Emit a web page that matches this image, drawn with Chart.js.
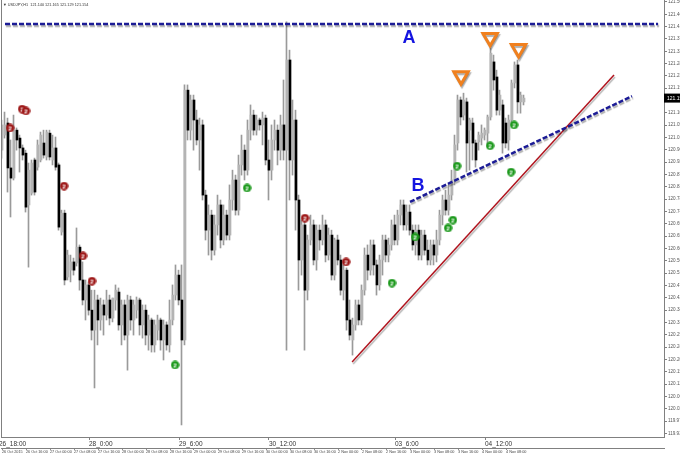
<!DOCTYPE html>
<html lang="en">
<head>
<meta charset="UTF-8">
<title>USDJPY,H1</title>
<script src="https://cdn.jsdelivr.net/npm/chart.js"></script>
<style>
  html, body { margin: 0; padding: 0; background: #fff; }
  #wrap { width: 680px; height: 457px; }
</style>
</head>
<body>
<div id="wrap"><canvas id="myChart" width="680" height="457"></canvas></div>
<script>
// ---- data (H1 candles, one per hour) ----
const symbolName = 'USDJPY,H1';

const candleOpen = [
  120.964, 121.019, 121.063, 120.899, 120.862, 121.037, 121.008, 120.972, 120.953, 120.764,
  120.807, 120.928, 120.902, 120.928, 120.990, 120.939, 121.026, 120.928, 120.972, 120.910,
  120.665, 120.734, 120.501, 120.526, 120.556, 120.552, 120.610, 120.490, 120.417, 120.472,
  120.380, 120.307, 120.417, 120.344, 120.399, 120.362, 120.417, 120.351, 120.417, 120.446,
  120.326, 120.399, 120.289, 120.417, 120.344, 120.380, 120.417, 120.326, 120.380, 120.289,
  120.344, 120.253, 120.307, 120.344, 120.271, 120.326, 120.253, 120.344, 120.435, 120.508,
  120.417, 120.271, 121.183, 121.037, 121.147, 121.074, 121.001, 121.056, 120.800, 120.672,
  120.727, 120.599, 120.691, 120.764, 120.636, 120.727, 120.654, 120.782, 120.855, 120.745,
  120.910, 120.964, 120.891, 121.037, 121.092, 121.037, 121.074, 121.056, 121.081, 120.928,
  120.891, 121.001, 121.037, 120.964, 121.056, 120.964, 121.293, 120.928, 121.074, 120.782,
  120.563, 120.691, 120.453, 120.636, 120.691, 120.563, 120.672, 120.636, 120.691, 120.581,
  120.654, 120.508, 120.636, 120.563, 120.453, 120.526, 120.344, 120.271, 120.326, 120.399,
  120.344, 120.453, 120.581, 120.526, 120.618, 120.545, 120.472, 120.563, 120.636, 120.581,
  120.618, 120.691, 120.636, 120.727, 120.764, 120.691, 120.738, 120.672, 120.618, 120.672,
  120.581, 120.654, 120.599, 120.563, 120.618, 120.581, 120.636, 120.727, 120.782, 120.745,
  120.800, 120.855, 120.990, 121.147, 121.092, 121.140, 121.037, 121.063, 120.990, 120.994,
  121.008, 121.019, 121.026, 121.085, 121.286, 121.231, 121.110, 121.129, 121.063, 121.001,
  121.074, 121.209, 121.275, 121.140, 121.140
];
const candleHigh = [
  121.074, 121.103, 121.081, 121.001, 121.092, 121.045, 121.019, 120.983, 120.964, 120.917,
  120.928, 120.935, 121.001, 121.030, 121.037, 121.037, 121.037, 121.019, 121.012, 120.917,
  120.745, 120.745, 120.599, 120.581, 120.570, 120.680, 120.618, 120.556, 120.490, 120.483,
  120.453, 120.453, 120.435, 120.424, 120.417, 120.453, 120.435, 120.424, 120.472, 120.461,
  120.417, 120.417, 120.435, 120.431, 120.417, 120.428, 120.424, 120.399, 120.399, 120.362,
  120.351, 120.344, 120.362, 120.351, 120.344, 120.337, 120.417, 120.472, 120.545, 120.526,
  120.545, 121.202, 121.202, 121.165, 121.165, 121.110, 121.081, 121.074, 120.818, 120.764,
  120.745, 120.727, 120.800, 120.782, 120.764, 120.745, 120.837, 120.891, 120.873, 120.946,
  121.019, 120.983, 121.074, 121.129, 121.110, 121.092, 121.081, 121.103, 121.092, 121.001,
  121.056, 121.074, 121.056, 121.092, 121.220, 121.432, 121.329, 121.147, 121.110, 120.800,
  120.709, 120.709, 120.654, 120.727, 120.709, 120.691, 120.691, 120.727, 120.709, 120.680,
  120.672, 120.643, 120.654, 120.581, 120.545, 120.534, 120.417, 120.351, 120.417, 120.417,
  120.472, 120.607, 120.618, 120.636, 120.636, 120.563, 120.581, 120.654, 120.654, 120.643,
  120.709, 120.727, 120.745, 120.782, 120.782, 120.764, 120.764, 120.691, 120.691, 120.691,
  120.672, 120.672, 120.636, 120.636, 120.636, 120.672, 120.745, 120.800, 120.818, 120.837,
  120.891, 121.019, 121.165, 121.158, 121.172, 121.154, 121.081, 121.081, 121.001, 121.030,
  121.056, 121.045, 121.092, 121.337, 121.311, 121.256, 121.183, 121.147, 121.081, 121.092,
  121.220, 121.286, 121.293, 121.176, 121.165
];
const candleLow = [
  120.935, 121.008, 120.811, 120.720, 120.855, 120.964, 120.884, 120.928, 120.738, 120.537,
  120.800, 120.800, 120.891, 120.921, 120.935, 120.928, 120.928, 120.910, 120.891, 120.672,
  120.654, 120.472, 120.490, 120.483, 120.508, 120.541, 120.453, 120.399, 120.344, 120.362,
  120.271, 120.096, 120.253, 120.307, 120.289, 120.344, 120.326, 120.337, 120.380, 120.307,
  120.253, 120.271, 120.161, 120.307, 120.289, 120.351, 120.289, 120.278, 120.253, 120.234,
  120.227, 120.227, 120.271, 120.234, 120.198, 120.234, 120.227, 120.326, 120.417, 120.399,
  119.961, 120.253, 121.001, 121.001, 120.964, 120.983, 120.891, 120.782, 120.636, 120.581,
  120.563, 120.581, 120.654, 120.607, 120.618, 120.636, 120.636, 120.745, 120.727, 120.727,
  120.873, 120.855, 120.873, 121.001, 121.019, 121.019, 121.037, 120.983, 120.910, 120.782,
  120.855, 120.964, 120.910, 120.928, 120.928, 120.234, 120.782, 120.873, 120.672, 120.453,
  120.508, 120.234, 120.417, 120.618, 120.545, 120.526, 120.599, 120.618, 120.556, 120.563,
  120.490, 120.490, 120.545, 120.435, 120.417, 120.307, 120.271, 120.216, 120.307, 120.326,
  120.326, 120.435, 120.490, 120.508, 120.508, 120.435, 120.453, 120.508, 120.556, 120.556,
  120.599, 120.618, 120.618, 120.691, 120.672, 120.672, 120.654, 120.599, 120.581, 120.563,
  120.563, 120.581, 120.545, 120.545, 120.545, 120.556, 120.618, 120.691, 120.727, 120.727,
  120.782, 120.837, 120.964, 121.056, 121.074, 120.884, 120.891, 120.928, 120.902, 120.964,
  120.983, 121.001, 120.975, 121.074, 121.183, 121.092, 121.092, 120.953, 120.972, 120.964,
  121.056, 121.191, 121.099, 121.099, 121.129
];
const candleClose = [
  121.056, 121.056, 120.899, 120.862, 121.037, 121.001, 120.972, 120.946, 120.756, 120.891,
  120.917, 120.811, 120.983, 121.019, 120.946, 121.030, 120.939, 120.972, 120.902, 120.683,
  120.734, 120.490, 120.581, 120.556, 120.526, 120.610, 120.490, 120.417, 120.472, 120.380,
  120.307, 120.417, 120.344, 120.399, 120.362, 120.417, 120.351, 120.424, 120.453, 120.326,
  120.399, 120.289, 120.417, 120.344, 120.399, 120.417, 120.326, 120.380, 120.289, 120.344,
  120.253, 120.326, 120.344, 120.271, 120.326, 120.253, 120.344, 120.435, 120.508, 120.417,
  120.271, 121.183, 121.037, 121.147, 121.074, 121.001, 121.056, 120.800, 120.672, 120.727,
  120.599, 120.691, 120.764, 120.636, 120.727, 120.654, 120.782, 120.855, 120.745, 120.910,
  120.964, 120.891, 121.037, 121.092, 121.037, 121.074, 121.056, 121.081, 120.928, 120.891,
  121.001, 121.037, 120.964, 121.056, 120.964, 121.293, 120.928, 121.074, 120.782, 120.563,
  120.691, 120.453, 120.636, 120.691, 120.563, 120.672, 120.636, 120.691, 120.581, 120.654,
  120.508, 120.636, 120.563, 120.453, 120.526, 120.344, 120.289, 120.326, 120.399, 120.344,
  120.453, 120.581, 120.526, 120.618, 120.545, 120.472, 120.563, 120.636, 120.581, 120.618,
  120.691, 120.636, 120.727, 120.764, 120.691, 120.738, 120.672, 120.618, 120.672, 120.581,
  120.654, 120.599, 120.563, 120.618, 120.581, 120.636, 120.727, 120.782, 120.745, 120.800,
  120.855, 120.983, 121.147, 121.085, 121.147, 120.990, 121.074, 120.990, 120.928, 121.019,
  121.026, 121.037, 121.085, 121.318, 121.220, 121.110, 121.165, 120.990, 120.990, 121.074,
  121.209, 121.275, 121.140, 121.165, 121.154
];

// price axis labels
const priceTicks = [
  121.505, 121.460, 121.415, 121.370, 121.325, 121.280, 121.235, 121.190, 121.145, 121.100,
  121.055, 121.010, 120.965, 120.920, 120.875, 120.830, 120.785, 120.740, 120.695, 120.650,
  120.605, 120.560, 120.515, 120.470, 120.425, 120.380, 120.335, 120.290, 120.245, 120.200,
  120.155, 120.110, 120.065, 120.020, 119.975, 119.930
];
const priceMin = 119.917;
const priceMax = 121.512;

// time axis (bar index -> label)
const timeTickBars = [-1, 29, 59, 89, 131, 161];
const timeTickText = ['26_18:00', '28_0:00', '29_6:00', '30_12:00', '03_6:00', '04_12:00'];
const dateTickBars = [0, 8, 16, 24, 32, 40, 48, 56, 64, 72, 80, 88, 96, 104, 112, 120, 128, 136, 144, 152, 160, 168];
const dateTickText = [
  '26 Oct 2015', '26 Oct 16:00', '27 Oct 00:00', '27 Oct 08:00', '27 Oct 16:00', '28 Oct 00:00',
  '28 Oct 08:00', '28 Oct 16:00', '29 Oct 00:00', '29 Oct 08:00', '29 Oct 16:00', '30 Oct 00:00',
  '30 Oct 08:00', '30 Oct 16:00', '2 Nov 00:00', '2 Nov 08:00', '2 Nov 16:00', '3 Nov 00:00',
  '3 Nov 08:00', '3 Nov 16:00', '4 Nov 00:00', '4 Nov 08:00'
];

// drawn objects
const lineA_x = [1, 218.7];
const lineA_y = [121.424, 121.424];
const lineB_x = [136, 210];
const lineB_y = [120.775, 121.161];
const lineRed_x = [116.7, 204];
const lineRed_y = [120.191, 121.238];

const topMarkX = [153, 162.7, 172.2];
const topMarkY = [121.235, 121.375, 121.334];

const redSignalX = [2.7, 6.7, 8, 20.7, 27, 30, 101, 114.7];
const redSignalY = [121.045, 121.114, 121.107, 120.833, 120.578, 120.486, 120.716, 120.556];
const greenSignalX = [57.7, 81.7, 130, 137.7, 148.7, 150.3, 151.7, 162.7, 169.7, 170.7];
const greenSignalY = [120.180, 120.826, 120.479, 120.647, 120.680, 120.709, 120.906, 120.980, 120.884, 121.056];

const noteText = ['A', 'B'];
const noteX = [135.7, 138.7];
const noteY = [121.373, 120.833];

// ---- build ----
const xMin = -1 / 3;
const xMax = xMin + 221;
const bars = candleOpen.map((_, i) => i);
const upColor = '#b4b4b4';
const downColor = '#000000';

function makeBadge(fill) {
  const c = document.createElement('canvas');
  c.width = 9; c.height = 9;
  const g = c.getContext('2d');
  g.fillStyle = fill;
  g.beginPath(); g.arc(4.5, 4.5, 4.2, 0, Math.PI * 2); g.fill();
  g.fillStyle = '#fff';
  g.font = 'bold 6px "Liberation Sans"';
  g.textAlign = 'center';
  g.textBaseline = 'middle';
  g.fillText('2', 4.5, 5);
  return c;
}
const redBadge = makeBadge('#9e1a1a');
const greenBadge = makeBadge('#1e9a1e');

const pairs = (xs, ys) => xs.map((x, i) => ({ x: x, y: ys[i] }));

const shadowPlugin = {
  id: 'shadow',
  beforeDatasetDraw(chart, args) {
    if (chart.data.datasets[args.index].shadow) {
      const ctx = chart.ctx;
      ctx.save();
      ctx.shadowColor = 'rgba(0,0,0,0.3)';
      ctx.shadowOffsetX = 1;
      ctx.shadowOffsetY = 2;
      ctx.shadowBlur = 1;
    }
  },
  afterDatasetDraw(chart, args) {
    if (chart.data.datasets[args.index].shadow) chart.ctx.restore();
  }
};

const decorPlugin = {
  id: 'decor',
  beforeDraw(chart) {
    const ctx = chart.ctx;
    ctx.save();
    ctx.fillStyle = '#fff';
    ctx.fillRect(0, 0, chart.width, chart.height);
    ctx.restore();
  },
  afterDraw(chart) {
    const ctx = chart.ctx;
    const xs = chart.scales.x, ys = chart.scales.y;
    const area = chart.chartArea;
    ctx.save();
    // left frame
    ctx.strokeStyle = '#808080';
    ctx.lineWidth = 1;
    ctx.beginPath();
    ctx.moveTo(area.left + 0.5, area.top);
    ctx.lineTo(area.left + 0.5, area.bottom);
    ctx.stroke();
    // A / B notes
    ctx.fillStyle = '#1515e0';
    ctx.font = 'bold 18px "Liberation Sans"';
    ctx.textAlign = 'center';
    ctx.textBaseline = 'middle';
    noteText.forEach((t, i) => {
      ctx.fillText(t, xs.getPixelForValue(noteX[i]), ys.getPixelForValue(noteY[i]));
    });
    // header
    const n = candleClose.length - 1;
    ctx.fillStyle = '#333';
    ctx.font = '3.8px "Liberation Sans"';
    ctx.textAlign = 'left';
    ctx.fillText('\u25BC ' + symbolName + '  ' + candleOpen[n].toFixed(3) + ' ' + candleHigh[n].toFixed(3) + ' ' +
      candleLow[n].toFixed(3) + ' ' + candleClose[n].toFixed(3), 3, 5);
    // current price box
    const py = ys.getPixelForValue(candleClose[n]);
    ctx.fillStyle = '#000';
    ctx.fillRect(area.right, py - 4.5, chart.width - area.right, 9);
    ctx.fillStyle = '#fff';
    ctx.font = '5px "Liberation Sans"';
    ctx.fillText(candleClose[n].toFixed(3), area.right + 3, py + 0.5);
    ctx.restore();
  }
};

const ctx = document.getElementById('myChart').getContext('2d');
new Chart(ctx, {
  type: 'bar',
  data: {
    datasets: [
      {
        type: 'scatter', label: 'red', data: pairs(redSignalX, redSignalY),
        pointStyle: redBadge, pointRadius: 4.5, order: -2
      },
      {
        type: 'scatter', label: 'green', data: pairs(greenSignalX, greenSignalY),
        pointStyle: greenBadge, pointRadius: 4.5, order: -2
      },
      {
        type: 'scatter', label: 'tops', data: pairs(topMarkX, topMarkY), shadow: true,
        pointStyle: 'triangle', rotation: 180, pointRadius: 8.3,
        backgroundColor: '#fff', borderColor: '#f0801e', borderWidth: 3, order: -1
      },
      {
        type: 'line', label: 'A', data: pairs(lineA_x, lineA_y), shadow: true,
        borderColor: '#1c1c96', borderWidth: 2.5, borderDash: [5, 2], pointRadius: 0, order: 0
      },
      {
        type: 'line', label: 'B', data: pairs(lineB_x, lineB_y), shadow: true,
        borderColor: '#1c1c96', borderWidth: 2.5, borderDash: [5, 2], pointRadius: 0, order: 0
      },
      {
        type: 'line', label: 'support', data: pairs(lineRed_x, lineRed_y), shadow: true,
        borderColor: '#b0141e', borderWidth: 1.5, pointRadius: 0, order: 0
      },
      {
        label: 'body', data: bars.map(i => ({ x: i, y: [candleOpen[i], candleClose[i]] })),
        backgroundColor: bars.map(i => candleClose[i] >= candleOpen[i] ? upColor : downColor),
        barThickness: 2, minBarLength: 1, grouped: false, borderWidth: 0, order: 1
      },
      {
        label: 'wick', data: bars.map(i => ({ x: i, y: [candleLow[i], candleHigh[i]] })),
        xAxisID: 'xw', backgroundColor: '#9a9a9a',
        barThickness: 1, grouped: false, borderWidth: 0, order: 2
      }
    ]
  },
  options: {
    responsive: false,
    animation: false,
    layout: { autoPadding: false, padding: { left: 1, top: 0, right: 0, bottom: 0 } },
    plugins: { legend: { display: false }, tooltip: { enabled: false } },
    scales: {
      x: {
        type: 'linear', position: 'bottom', min: xMin, max: xMax, weight: 0, offset: false,
        border: { color: '#808080' },
        grid: { drawOnChartArea: false, offset: false, tickLength: 3, color: '#808080' },
        ticks: {
          autoSkip: false, maxRotation: 0, align: 'start', padding: 0,
          color: '#333', font: { family: 'Liberation Sans', size: 6.5 },
          callback: (v, i) => timeTickText[i]
        },
        afterBuildTicks: s => { s.ticks = timeTickBars.map(v => ({ value: v })); },
        afterFit: s => { s.height = 11; s.paddingLeft = 0; s.paddingRight = 0; }
      },
      x2: {
        type: 'linear', position: 'bottom', min: xMin, max: xMax, weight: 1, offset: false,
        border: { color: '#808080' },
        grid: { drawOnChartArea: false, offset: false, tickLength: 2, color: '#909090' },
        ticks: {
          autoSkip: false, maxRotation: 0, align: 'start', padding: 0,
          color: '#444', font: { family: 'Liberation Sans', size: 3.8 },
          callback: (v, i) => dateTickText[i]
        },
        afterBuildTicks: s => { s.ticks = dateTickBars.map(v => ({ value: v })); },
        afterFit: s => { s.height = 9; s.paddingLeft = 0; s.paddingRight = 0; }
      },
      xw: {
        type: 'linear', display: false, offset: false, min: xMin + 1 / 6, max: xMax + 1 / 6
      },
      y: {
        type: 'linear', position: 'right', min: priceMin, max: priceMax,
        border: { color: '#808080' },
        grid: { drawOnChartArea: false, tickLength: 3, color: '#808080' },
        ticks: {
          autoSkip: false, padding: 1, color: '#555',
          font: { family: 'Liberation Sans', size: 4.6 },
          callback: v => v.toFixed(3)
        },
        afterBuildTicks: s => { s.ticks = priceTicks.map(v => ({ value: v })); },
        afterFit: s => { s.width = 16; s.paddingTop = 0; s.paddingBottom = 0; }
      }
    }
  },
  plugins: [shadowPlugin, decorPlugin]
});
</script>
</body>
</html>
